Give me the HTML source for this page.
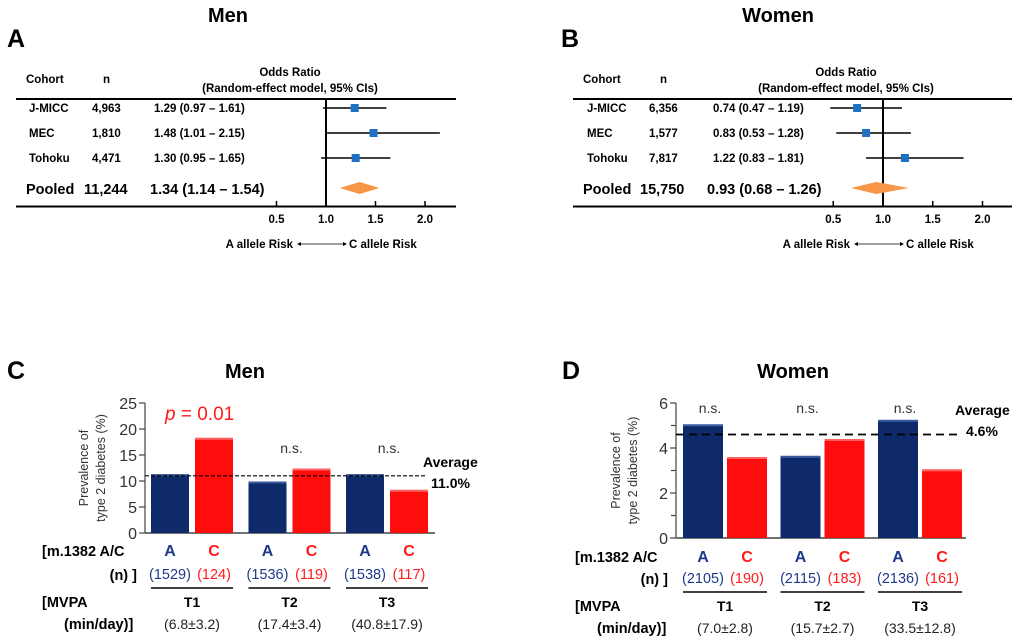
<!DOCTYPE html>
<html><head><meta charset="utf-8"><style>
body{margin:0;background:#fff;width:1020px;height:642px;overflow:hidden}
svg{display:block;font-family:"Liberation Sans",Arial,sans-serif}
.b{font-weight:bold}
</style></head><body>
<svg id="s" width="1020" height="642" viewBox="0 0 1020 642"></svg>
<script>
// Forest plot data
const forestCohorts=["J-MICC","MEC","Tohoku"];
const menN=["4,963","1,810","4,471"];
const menOR=[1.29,1.48,1.30];
const menLo=[0.97,1.01,0.95];
const menHi=[1.61,2.15,1.65];
const menPooled=[1.34,1.14,1.54];
const menPooledN="11,244";
const womenN=["6,356","1,577","7,817"];
const womenOR=[0.74,0.83,1.22];
const womenLo=[0.47,0.53,0.83];
const womenHi=[1.19,1.28,1.81];
const womenPooled=[0.93,0.68,1.26];
const womenPooledN="15,750";
const orTicks=[0.5,1.0,1.5,2.0];
// Bar chart data
const tertiles=["T1","T2","T3"];
const menA=[11.3,9.9,11.3];
const menC=[18.3,12.4,8.3];
const menAn=["(1529)","(1536)","(1538)"];
const menCn=["(124)","(119)","(117)"];
const menMVPA=["(6.8±3.2)","(17.4±3.4)","(40.8±17.9)"];
const menSig=["","n.s.","n.s."];
const menAvg=11.0;
const menTicks=[0,5,10,15,20,25];
const womenA=[5.05,3.65,5.25];
const womenC=[3.6,4.4,3.05];
const womenAn=["(2105)","(2115)","(2136)"];
const womenCn=["(190)","(183)","(161)"];
const womenMVPA=["(7.0±2.8)","(15.7±2.7)","(33.5±12.8)"];
const womenSig=["n.s.","n.s.","n.s."];
const womenAvg=4.6;
const womenTicks=[0,2,4,6];

const S=document.getElementById('s');
const NS="http://www.w3.org/2000/svg";
function el(tag,attrs,txt){const e=document.createElementNS(NS,tag);for(const k in attrs)e.setAttribute(k,attrs[k]);if(txt!==undefined)e.textContent=txt;S.appendChild(e);return e;}
function fmt(v){return v.toFixed(2);}

function forest(o){
  const X=v=>o.x1+(v-1)*o.k;
  let e;
  e=el('text',{x:o.tx,y:22,'text-anchor':'middle','font-size':20,'class':'b'},o.title);
  
  
  e=el('text',{x:o.lx,y:47,'font-size':25,'class':'b'},o.letter);
  
  
  e=el('text',{x:o.cx,y:83,'font-size':11.5,'class':'b'},"Cohort");
  
  
  e=el('text',{x:o.nx,y:83,'font-size':11.5,'class':'b'},"n");
  
  
  e=el('text',{x:o.hx,y:76,'text-anchor':'middle','font-size':11.5,'class':'b'},"Odds Ratio");
  
  
  e=el('text',{x:o.hx,y:92,'text-anchor':'middle','font-size':11.5,'class':'b'},"(Random-effect model, 95% CIs)");
  
  
  e=el('line',{x1:o.l0,x2:o.l1,y1:99,y2:99,stroke:'#000','stroke-width':2});
  
  
  e=el('line',{x1:o.l0,x2:o.l1,y1:206.5,y2:206.5,stroke:'#000','stroke-width':2});
  
  
  e=el('line',{x1:X(1),x2:X(1),y1:99,y2:207,stroke:'#000','stroke-width':2});
  
  
  orTicks.forEach(t=>{
    e=el('line',{x1:X(t),x2:X(t),y1:201,y2:207,stroke:'#000','stroke-width':1.5});
    
    
    e=el('text',{x:X(t),y:223,'text-anchor':'middle','font-size':11.5,'class':'b'},t.toFixed(1));
    
    
  });
  const rows=[108,133,158];
  forestCohorts.forEach((c,i)=>{
    const y=rows[i];
    e=el('text',{x:o.rx,y:y+4,'font-size':11.5,'class':'b'},c);
    
    
    e=el('text',{x:o.rnx,y:y+4,'font-size':11.5,'class':'b'},o.n[i]);
    
    
    e=el('text',{x:o.rox,y:y+4,'font-size':11.5,'class':'b'},fmt(o.or[i])+" ("+fmt(o.lo[i])+" – "+fmt(o.hi[i])+")");
    
    
    e=el('line',{x1:X(o.lo[i]),x2:X(o.hi[i]),y1:y,y2:y,stroke:'#000','stroke-width':1.5});
    
    
    e=el('rect',{x:X(o.or[i])-4,y:y-4,width:8,height:8,fill:'#1f6fc4'});
    
    
  });
  e=el('text',{x:o.cx,y:194,'font-size':14.5,'class':'b'},"Pooled");
  
  
  e=el('text',{x:o.pnx,y:194,'font-size':14.5,'class':'b'},o.pn);
  
  
  e=el('text',{x:o.pox,y:194,'font-size':14.5,'class':'b'},fmt(o.p[0])+" ("+fmt(o.p[1])+" – "+fmt(o.p[2])+")");
  
  
  const py=188;
  e=el('polygon',{points:`${X(o.p[1])},${py} ${X(o.p[0])},${py-6} ${X(o.p[2])},${py} ${X(o.p[0])},${py+6}`,fill:'#f79646'});
  
  
  e=el('text',{x:X(1)-33,y:248,'text-anchor':'end','font-size':11.5,'class':'b'},"A allele Risk");
  
  
  e=el('line',{x1:X(1)-28,x2:X(1)+20,y1:244,y2:244,stroke:'#000','stroke-width':0.8});
  
  
  el('polygon',{points:`${X(1)-29},244 ${X(1)-25},242 ${X(1)-25},246`,fill:'#000'});
  el('polygon',{points:`${X(1)+21},244 ${X(1)+17},242 ${X(1)+17},246`,fill:'#000'});
  e=el('text',{x:X(1)+23,y:248,'font-size':11.5,'class':'b'},"C allele Risk");
  
  
}
forest({pre:'men-forest',title:'Men',letter:'A',tx:228,lx:7,cx:26,nx:103,hx:290,l0:16,l1:456,x1:326,k:99,rx:29,rnx:92,rox:154,pnx:84,pox:150,n:menN,or:menOR,lo:menLo,hi:menHi,p:menPooled,pn:menPooledN});
forest({pre:'women-forest',title:'Women',letter:'B',tx:778,lx:561,cx:583,nx:660,hx:846,l0:573,l1:1012,x1:883,k:99.5,rx:587,rnx:649,rox:713,pnx:640,pox:707,n:womenN,or:womenOR,lo:womenLo,hi:womenHi,p:womenPooled,pn:womenPooledN});

function bars(o){
  const Y=v=>o.y0-(v/o.max)*(o.y0-o.ytop);
  let e;
  e=el('text',{x:o.lx,y:379,'font-size':25,'class':'b'},o.letter);
  
  
  e=el('text',{x:o.tx,y:378,'text-anchor':'middle','font-size':20,'class':'b'},o.title);
  
  
  e=el('line',{x1:o.ax,x2:o.ax,y1:o.ytop,y2:o.y0,stroke:'#444','stroke-width':1.2});
  
  
  o.ticks.forEach(t=>{
    e=el('line',{x1:o.ax-6,x2:o.ax,y1:Y(t),y2:Y(t),stroke:'#444','stroke-width':1.2});
    
    
    e=el('text',{x:o.ax-8,y:Y(t)+6,'text-anchor':'end','font-size':16,fill:'#333'},String(t));
    
    
  });
  (o.minor||[]).forEach(t=>{
    e=el('line',{x1:o.ax-5,x2:o.ax,y1:Y(t),y2:Y(t),stroke:'#444','stroke-width':1.2});
    
    
  });
  const cy=(o.ytop+o.y0)/2;
  e=el('text',{x:0,y:0,'text-anchor':'middle','font-size':12.5,fill:'#333',transform:`translate(${o.ytx},${cy}) rotate(-90)`},"Prevalence of");
  
  
  e=el('text',{x:0,y:0,'text-anchor':'middle','font-size':12.5,fill:'#333',transform:`translate(${o.ytx+17},${cy}) rotate(-90)`},"type 2 diabetes (%)");
  
  
  e=el('line',{x1:o.ax,x2:o.axR,y1:o.y0,y2:o.y0,stroke:'#444','stroke-width':1.5});
  
  
  tertiles.forEach((t,i)=>{
    const gx=o.g0+i*o.gs;
    const ax=gx, cx=gx+o.bw+o.gap;
    e=el('rect',{x:ax,y:Y(o.A[i]),width:o.bw,height:o.y0-Y(o.A[i]),fill:'#0e2a6a'});
    
    
    el('rect',{x:ax,y:Y(o.A[i]),width:o.bw,height:2,fill:'#3a5aa0'});
    e=el('rect',{x:cx,y:Y(o.C[i]),width:o.bw,height:o.y0-Y(o.C[i]),fill:'#ff0d0d'});
    
    
    el('rect',{x:cx,y:Y(o.C[i]),width:o.bw,height:2,fill:'#ff6060'});
    if(o.sig[i]){
      e=el('text',{x:(ax+cx+o.bw)/2+o.sigdx,y:o.sigy,'text-anchor':'middle','font-size':14,fill:'#333'},o.sig[i]);
      
      
    }
    e=el('text',{x:ax+o.bw/2,y:o.ly1,'text-anchor':'middle','font-size':16,'class':'b',fill:'#1f3a8a'},"A");
    
    
    e=el('text',{x:cx+o.bw/2,y:o.ly1,'text-anchor':'middle','font-size':16,'class':'b',fill:'#ff1a1a'},"C");
    
    
    e=el('text',{x:ax+o.bw/2,y:o.ly2,'text-anchor':'middle','font-size':14.5,fill:'#1f3a8a'},o.An[i]);
    
    
    e=el('text',{x:cx+o.bw/2,y:o.ly2,'text-anchor':'middle','font-size':14.5,fill:'#ff1a1a'},o.Cn[i]);
    
    
    e=el('line',{x1:ax,x2:cx+o.bw,y1:o.ly2+9,y2:o.ly2+9,stroke:'#000','stroke-width':1.5});
    
    
    e=el('text',{x:(ax+cx+o.bw)/2,y:o.ly2+28,'text-anchor':'middle','font-size':14,'class':'b'},t);
    
    
    e=el('text',{x:(ax+cx+o.bw)/2,y:o.ly2+50,'text-anchor':'middle','font-size':14,fill:'#222'},o.mv[i]);
    
    
  });
  e=el('line',{x1:o.ax,x2:o.avgR,y1:Y(o.avg),y2:Y(o.avg),stroke:'#000','stroke-width':o.dw,'stroke-dasharray':o.dash});
  
  
  e=el('text',{x:o.avx,y:o.avy,'font-size':14,'class':'b'},"Average");
  
  
  e=el('text',{x:o.avx+o.avdx,y:o.avy+21,'font-size':14,'class':'b'},o.avg.toFixed(1)+"%");
  
  
  e=el('text',{x:o.rlx,y:o.ly1,'font-size':14.5,'class':'b'},"[m.1382 A/C");
  
  
  e=el('text',{x:o.ax-8,y:o.ly2+1,'text-anchor':'end','font-size':14.5,'class':'b'},"(n) ]");
  
  
  e=el('text',{x:o.rlx,y:o.ly2+28,'font-size':14.5,'class':'b'},"[MVPA");
  
  
  e=el('text',{x:o.rlx+22,y:o.ly2+50,'font-size':14.5,'class':'b'},"(min/day)]");
  
  
}
bars({pre:'men-bars',letter:'C',title:'Men',lx:7,tx:245,ax:145,axR:435,ytop:403,y0:533,max:25,ticks:menTicks,ytx:88,
  A:menA,C:menC,An:menAn,Cn:menCn,mv:menMVPA,sig:menSig,sigdx:2,sigy:453,g0:151,gs:97.5,bw:38,gap:6,
  avg:menAvg,avgR:425,dw:1.2,dash:'4,2',avx:423,avy:467,avdx:8,ly1:556,ly2:579,rlx:42});
let pe=el('text',{x:165,y:420,'font-size':19,fill:'#ff1a1a'},"");


pe.innerHTML='<tspan font-style="italic">p</tspan> = 0.01';
bars({pre:'women-bars',letter:'D',title:'Women',lx:562,tx:793,ax:676,axR:966,ytop:403,y0:538,max:6,ticks:womenTicks,minor:[1,3,5],ytx:620,
  A:womenA,C:womenC,An:womenAn,Cn:womenCn,mv:womenMVPA,sig:womenSig,sigdx:-15,sigy:413,g0:683,gs:97.5,bw:40,gap:4,
  avg:womenAvg,avgR:960,dw:1.8,dash:'8,5',avx:955,avy:415,avdx:11,ly1:562,ly2:583,rlx:575});
</script>
</body></html>
